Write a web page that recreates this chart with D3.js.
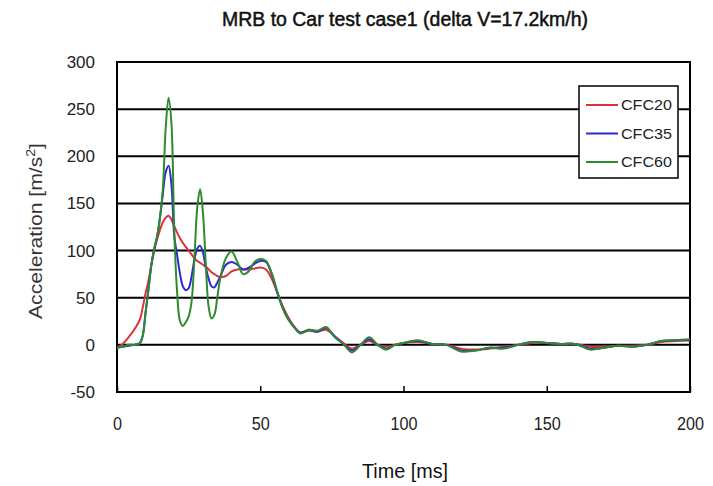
<!DOCTYPE html>
<html><head><meta charset="utf-8">
<script src="https://cdn.jsdelivr.net/npm/d3@7"></script>
<style>
body{margin:0;background:#fff;}
text{font-family:"Liberation Sans",Arial,sans-serif;}
</style></head>
<body><svg id="c" width="713" height="486"></svg>
<script>
const titleText = "MRB to Car test case1 (delta V=17.2km/h)";
const xTicks = [0, 50, 100, 150, 200];
const yTicks = [-50, 0, 50, 100, 150, 200, 250, 300];
const seriesNames = ["CFC20", "CFC35", "CFC60"];
const seriesColors = ["#e0303a", "#2a2ad0", "#2f8a2f"];
const time = [0,2,4,6,8,9,10,11,12,13,14,15,16,17,18,19,20,21,22,23,24,25,26,27,28,29,30,31,32,33,34,35,36,38,40,42,44,46,48,50,52,54,56,58,60,62,64,67,70,73,76,79,82,85,88,91,94,97,100,105,110,115,120,125,130,135,140,145,150,155,160,165,170,175,180,185,190,195,200];
const cfc20 = [-3,1,8,16,27,40,55,68,85,100,112,122,130,135,137,133,126,119,113,108,104,100,96,92,89,87,85,83,80,77,75,73,72,73,78,80,80,80,81,82,80,70,55,40,28,19,13,15,14,16,9,2,-4,0,4,0,-2,0,2,3,1,0,-4,-5,-4,-2,0,2,2,1,1,-2,-2,-1,-1,0,3,4,5];
const cfc35 = [-3,-2,-1,0,2,10,35,59,85,102,115,135,160,183,190,170,115,95,75,62,58,60,72,90,102,105,98,82,70,62,61,66,72,85,88,85,80,82,86,89,88,75,55,38,26,18,13,16,14,18,9,1,-6,0,6,0,-4,0,2,4,1,0,-6,-6,-3,-3,0,3,2,1,1,-4,-3,-1,-2,0,4,5,5];
const cfc60 = [-3,-2,0,0,2,10,35,59,85,102,115,135,165,230,262,235,120,55,25,20,24,30,45,90,145,165,140,85,40,28,32,50,70,92,99,88,75,78,88,91,89,76,56,38,26,18,12,16,15,19,8,1,-8,0,8,0,-5,0,2,5,1,0,-7,-6,-3,-4,0,3,2,1,1,-5,-3,-1,-2,0,4,5,6];
const seriesValues = [cfc20, cfc35, cfc60];

const svg = d3.select("#c");
const L = 117, R = 690, T = 62, B = 392;
const x = d3.scaleLinear().domain([0, 200]).range([L, R]);
const y = d3.scaleLinear().domain([-50, 300]).range([B, T]);

function squeeze(sel, ratio) {
  sel.each(function () {
    const w = this.getComputedTextLength();
    d3.select(this).attr("textLength", w * ratio).attr("lengthAdjust", "spacingAndGlyphs");
  });
}

// title
svg.append("text").attr("x", 405).attr("y", 26).attr("text-anchor", "middle")
  .attr("font-size", 20).attr("fill", "#111").attr("stroke", "#111").attr("stroke-width", 0.5)
  .attr("textLength", 366).attr("lengthAdjust", "spacingAndGlyphs").text(titleText);

// gridlines
svg.append("g").selectAll("line").data(yTicks).join("line")
  .attr("x1", L).attr("x2", R).attr("y1", d => y(d)).attr("y2", d => y(d))
  .attr("stroke", "#000").attr("stroke-width", 2);

// frame
svg.append("rect").attr("x", L).attr("y", T).attr("width", R - L).attr("height", B - T)
  .attr("fill", "none").attr("stroke", "#000").attr("stroke-width", 2);

// x axis
const xAxis = d3.axisBottom(x).tickValues(xTicks).tickFormat(d => String(d))
  .tickSizeInner(-6).tickSizeOuter(0).tickPadding(25);
const gx = svg.append("g").attr("transform", `translate(0,${B})`).call(xAxis);
gx.select(".domain").remove();
gx.selectAll("line").attr("stroke", "#000").attr("stroke-width", 1.5);
gx.selectAll("text").attr("font-size", 18).attr("fill", "#222")
  .style("font-family", '"Liberation Sans",Arial,sans-serif');
squeeze(gx.selectAll("text"), 0.9);

// y axis
const yAxis = d3.axisLeft(y).tickValues(yTicks).tickFormat(d => String(d)).tickSize(0).tickPadding(22);
const gy = svg.append("g").attr("transform", `translate(${L},0)`).call(yAxis);
gy.select(".domain").remove();
gy.selectAll("text").attr("font-size", 17).attr("fill", "#222")
  .style("font-family", '"Liberation Sans",Arial,sans-serif');

// axis titles
svg.append("text").attr("x", 405).attr("y", 478).attr("text-anchor", "middle")
  .attr("font-size", 20).attr("fill", "#111")
  .attr("textLength", 86).attr("lengthAdjust", "spacingAndGlyphs").text("Time [ms]");
const yt = svg.append("text").attr("transform", "translate(42,231) rotate(-90)")
  .attr("text-anchor", "middle").attr("font-size", 18).attr("fill", "#333")
  .attr("textLength", 176).attr("lengthAdjust", "spacingAndGlyphs");
yt.append("tspan").text("Acceleration [m/s");
yt.append("tspan").attr("dy", -7).attr("font-size", 12).text("2");
yt.append("tspan").attr("dy", 7).text("]");

// series
const line = d3.line().x((d, i) => x(time[i])).y(d => y(d)).curve(d3.curveCatmullRom.alpha(0.5));
const drawOrder = [0, 1, 2];
svg.append("g").selectAll("path").data(drawOrder).join("path")
  .attr("d", k => line(seriesValues[k]))
  .attr("fill", "none").attr("stroke", k => seriesColors[k]).attr("stroke-width", 2);

// legend
const lg = svg.append("g");
lg.append("rect").attr("x", 579).attr("y", 86).attr("width", 99).attr("height", 92)
  .attr("fill", "#fff").attr("stroke", "#000").attr("stroke-width", 1.5);
const items = lg.selectAll("g.it").data(seriesNames).join("g").attr("class", "it")
  .attr("transform", (d, i) => `translate(0,${105 + i * 28.5})`);
items.append("line").attr("x1", 586).attr("x2", 618).attr("y1", 0).attr("y2", 0)
  .attr("stroke", (d, i) => seriesColors[i]).attr("stroke-width", 2);
items.append("text").attr("x", 621).attr("y", 5).attr("font-size", 14).attr("fill", "#222")
  .attr("textLength", 51).attr("lengthAdjust", "spacingAndGlyphs").text(d => d);
</script></body></html>
